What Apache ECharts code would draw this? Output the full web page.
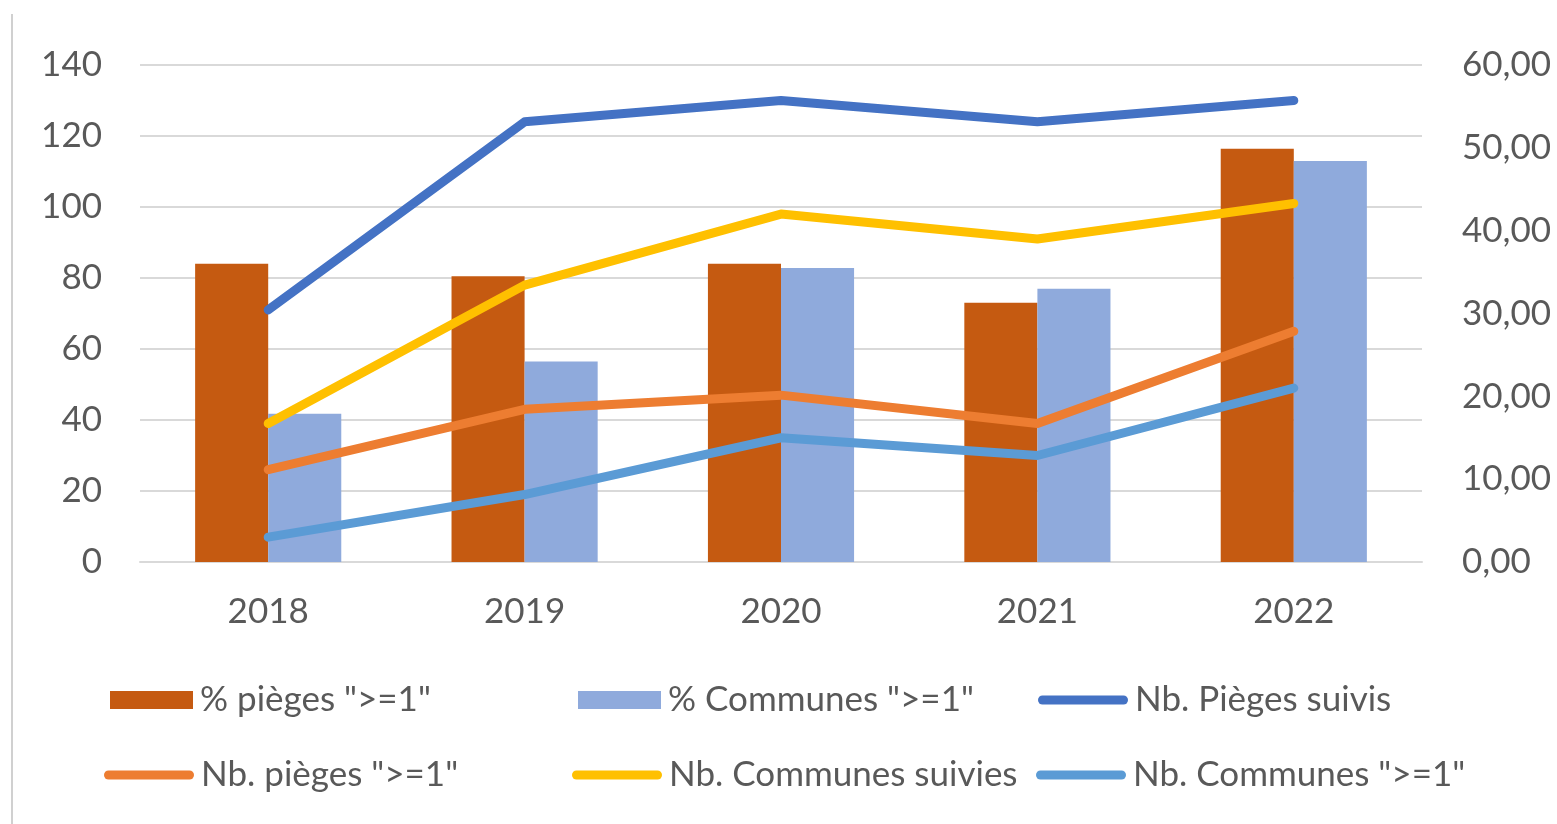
<!DOCTYPE html>
<html>
<head>
<meta charset="utf-8">
<script src="https://cdn.jsdelivr.net/npm/echarts@6/dist/echarts.min.js"></script>
<style>
html,body{margin:0;padding:0;background:#fff;}
#frame{position:absolute;left:0;top:0;width:1557px;height:824px;}
#edge{position:absolute;left:11px;top:14px;width:2px;height:810px;background:#d0d0d0;}
#chart{position:absolute;left:0;top:0;width:1557px;height:824px;}
</style>
</head>
<body>
<div id="frame"><div id="edge"></div><div id="chart"></div></div>
<script>
const years = ['2018', '2019', '2020', '2021', '2022'];
const pctPieges = [36.0, 34.5, 36.0, 31.3, 49.9];
const pctCommunes = [17.9, 24.2, 35.5, 33.0, 48.4];
const nbPiegesSuivis = [71, 124, 130, 124, 130];
const nbPieges1 = [26, 43, 47, 39, 65];
const nbCommunesSuivies = [39, 78, 98, 91, 101];
const nbCommunes1 = [7, 19, 35, 30, 49];
const leftTicks = {min: 0, max: 140, interval: 20};
const rightTicks = {min: 0, max: 60, interval: 10};

const names = ['% pièges ">=1"', '% Communes ">=1"', 'Nb. Pièges suivis',
  'Nb. pièges ">=1"', 'Nb. Communes suivies', 'Nb. Communes ">=1"'];
const colors = ['#C55A11', '#8FAADC', '#4472C4', '#ED7D31', '#FFC000', '#5B9BD5'];
const textColor = '#595959';
const font = 'Lato, "Open Sans", sans-serif';
const fs = 35;
const capsule = 'path://M5,0 L95,0 A5,5 0 0 1 95,10 L5,10 A5,5 0 0 1 5,0 Z';

const legendPos = [
  {left: 110, cy: 700}, {left: 578, cy: 700}, {left: 1038, cy: 700},
  {left: 104, cy: 775}, {left: 572, cy: 775}, {left: 1036, cy: 775}
];
const legends = names.map((n, i) => {
  const isBar = i < 2;
  return {
    data: [{name: n, icon: isBar ? 'rect' : capsule}],
    left: legendPos[i].left,
    top: legendPos[i].cy - 19,
    itemWidth: isBar ? 83 : 90,
    itemHeight: isBar ? 18 : 10,
    itemGap: 0,
    padding: 0,
    selectedMode: false,
    textStyle: {color: textColor, fontSize: fs, lineHeight: 38, fontFamily: font, padding: [0, 0, 0, 2]}
  };
});

const lineSeries = (name, data, color) => ({
  name, type: 'line', data, yAxisIndex: 0,
  smooth: false, symbol: 'none', showSymbol: false,
  lineStyle: {color, width: 9, cap: 'round', join: 'round'},
  itemStyle: {color}
});

const chart = echarts.init(document.getElementById('chart'));
chart.setOption({
  animation: false,
  textStyle: {fontFamily: font},
  grid: {left: 140, right: 135, top: 65, bottom: 262},
  legend: legends,
  xAxis: {
    type: 'category', data: years,
    axisLine: {lineStyle: {color: '#d9d9d9', width: 2}},
    axisTick: {show: false},
    axisLabel: {color: textColor, fontSize: fs, fontFamily: font, margin: 32}
  },
  yAxis: [
    {
      type: 'value', min: leftTicks.min, max: leftTicks.max, interval: leftTicks.interval,
      axisLine: {show: false}, axisTick: {show: false},
      axisLabel: {color: textColor, fontSize: fs, fontFamily: font, margin: 38},
      splitLine: {lineStyle: {color: '#d9d9d9', width: 2}}
    },
    {
      type: 'value', min: rightTicks.min, max: rightTicks.max, interval: rightTicks.interval,
      position: 'right',
      axisLine: {show: false}, axisTick: {show: false},
      axisLabel: {color: textColor, fontSize: fs, fontFamily: font, margin: 40,
        formatter: v => v.toFixed(2).replace('.', ',')},
      splitLine: {show: false}
    }
  ],
  series: [
    {name: names[0], type: 'bar', yAxisIndex: 1, data: pctPieges,
      itemStyle: {color: colors[0]}, barGap: '0%', barCategoryGap: '43%'},
    {name: names[1], type: 'bar', yAxisIndex: 1, data: pctCommunes,
      itemStyle: {color: colors[1]}, barGap: '0%', barCategoryGap: '43%'},
    lineSeries(names[2], nbPiegesSuivis, colors[2]),
    lineSeries(names[3], nbPieges1, colors[3]),
    lineSeries(names[4], nbCommunesSuivies, colors[4]),
    lineSeries(names[5], nbCommunes1, colors[5])
  ]
});
</script>
</body>
</html>
